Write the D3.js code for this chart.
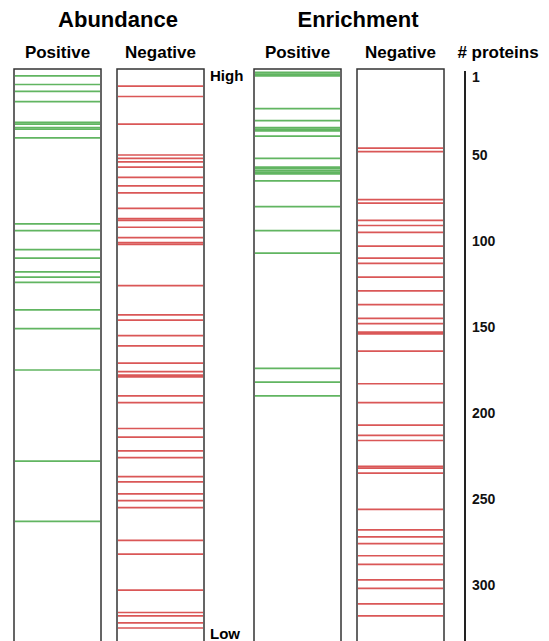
<!DOCTYPE html>
<html>
<head>
<meta charset="utf-8">
<script src="https://cdn.jsdelivr.net/npm/d3@7"></script>
<style>
  body { margin: 0; background: #fff; }
  svg { display: block; font-family: "Liberation Sans", Arial, sans-serif; }
</style>
</head>
<body>
<script>
const W = 549, H = 641;

// ranks (1 = highest) of the proteins marked in each column
const abundancePositive = [4, 9, 13, 19, 31, 32, 34, 35, 40, 90, 94, 105, 110, 118, 121, 124, 140, 151, 175, 228, 263];
const abundanceNegative = [10, 16, 32, 50, 52, 54, 57, 63, 68, 72, 81, 87, 88, 92, 98, 101, 102, 126, 143, 146, 155, 161,
  171, 176, 178, 179, 190, 194, 209, 214, 222, 226, 237, 240, 247, 251, 255, 274, 282, 303, 316, 318, 322, 325];
const enrichmentPositive = [2, 3, 4, 23, 30, 34, 35, 36, 39, 52, 57, 58, 59, 60, 61, 65, 80, 94, 107, 174, 182, 190];
const enrichmentNegative = [46, 48, 76, 78, 88, 91, 95, 103, 110, 113, 121, 129, 137, 145, 148, 153, 154, 164,
  183, 194, 207, 213, 216, 231, 232, 235, 256, 268, 272, 276, 283, 288, 297, 302, 311, 318];

const groups = ["Abundance", "Enrichment"];
const columnLabels = ["Positive", "Negative", "Positive", "Negative"];
const tickValues = [1, 50, 100, 150, 200, 250, 300];
const maxRank = 336;

const columns = [
  {group: 0, label: columnLabels[0], sign: "pos", ranks: abundancePositive},
  {group: 0, label: columnLabels[1], sign: "neg", ranks: abundanceNegative},
  {group: 1, label: columnLabels[2], sign: "pos", ranks: enrichmentPositive},
  {group: 1, label: columnLabels[3], sign: "neg", ranks: enrichmentNegative}
];

const colX = [14, 117, 254, 357];
const colW = 87;
const colour = {pos: "#35a035", neg: "#d02828"};

const svg = d3.select("body").append("svg")
  .attr("width", W)
  .attr("height", H);

const y = d3.scaleLinear()
  .domain([0, maxRank])
  .range([69, 69 + maxRank * 1.72]);

// group titles
svg.selectAll("text.group")
  .data(groups)
  .join("text")
    .attr("class", "group")
    .attr("x", (d, i) => [118, 358][i])
    .attr("y", 27)
    .attr("text-anchor", "middle")
    .attr("font-size", 22)
    .attr("font-weight", "bold")
    .text(d => d);

const col = svg.selectAll("g.col")
  .data(columns)
  .join("g")
    .attr("class", "col")
    .attr("transform", (d, i) => `translate(${colX[i]},0)`);

col.append("text")
  .attr("x", colW / 2)
  .attr("y", 58)
  .attr("text-anchor", "middle")
  .attr("font-size", 17)
  .attr("font-weight", "bold")
  .text(d => d.label);

col.selectAll("line")
  .data(d => d.ranks.map(r => ({r, sign: d.sign})))
  .join("line")
    .attr("x1", 1)
    .attr("x2", colW - 1)
    .attr("y1", d => y(d.r))
    .attr("y2", d => y(d.r))
    .attr("stroke", d => colour[d.sign])
    .attr("stroke-opacity", 0.78)
    .attr("stroke-width", 1.7);

col.append("rect")
  .attr("x", 0)
  .attr("y", y(0))
  .attr("width", colW)
  .attr("height", y(maxRank) - y(0))
  .attr("fill", "none")
  .attr("stroke", "#333")
  .attr("stroke-width", 1.5);

// high / low markers
svg.append("text")
  .attr("x", 210).attr("y", 81)
  .attr("font-size", 15).attr("font-weight", "bold")
  .text("High");
svg.append("text")
  .attr("x", 210).attr("y", 639)
  .attr("font-size", 15).attr("font-weight", "bold")
  .text("Low");

// protein count axis
svg.append("text")
  .attr("x", 498).attr("y", 58)
  .attr("text-anchor", "middle")
  .attr("font-size", 17).attr("font-weight", "bold")
  .text("# proteins");

const axis = svg.append("g")
  .attr("transform", "translate(465,0)")
  .call(d3.axisRight(y).tickValues(tickValues).tickSize(0).tickPadding(7));

axis.select(".domain")
  .attr("d", `M0,${y(0) + 2}V${H + 5}`)
  .attr("stroke", "#222")
  .attr("stroke-width", 2);

axis.selectAll(".tick text")
  .attr("font-family", "Liberation Sans, Arial, sans-serif")
  .attr("font-size", 14)
  .attr("font-weight", "bold")
  .attr("fill", "#111")
  .attr("dy", d => d === 1 ? "0.75em" : "0.32em");
</script>
</body>
</html>
